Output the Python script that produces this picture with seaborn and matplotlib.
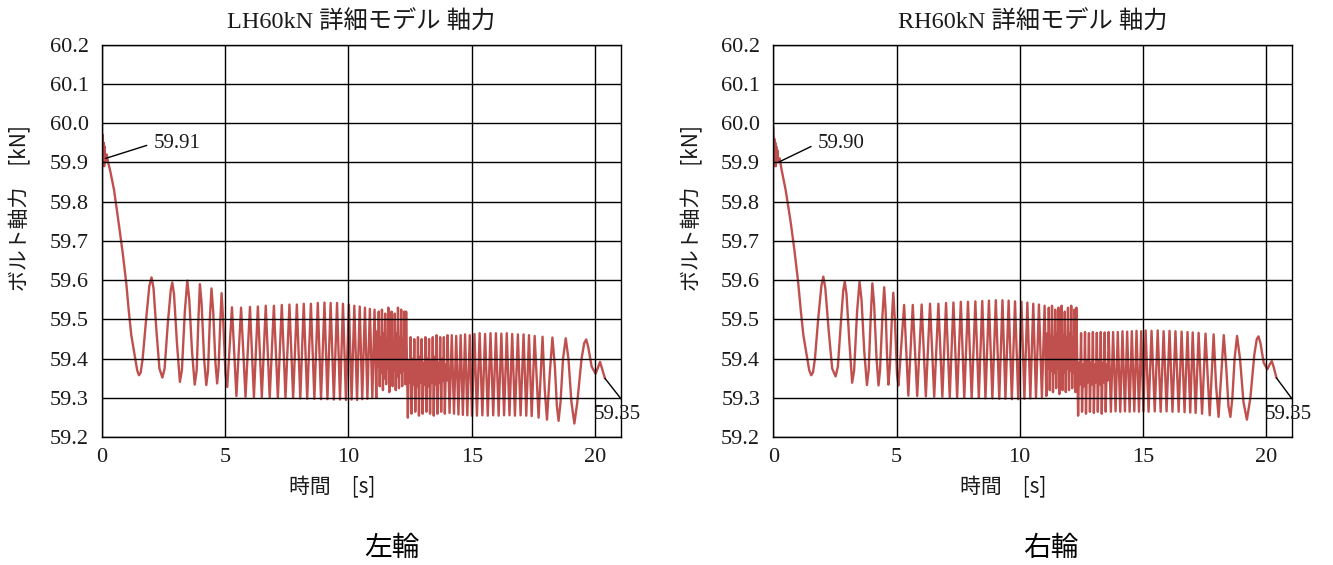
import numpy as np
import pandas as pd
import matplotlib
matplotlib.use("Agg")
import matplotlib.pyplot as plt
import seaborn as sns

# ---------------------------------------------------------------- axes setup
x_ticks = [0, 5, 10, 15, 20]
x_tick_labels = ["0", "5", "10", "15", "20"]
y_ticks = [59.2, 59.3, 59.4, 59.5, 59.6, 59.7, 59.8, 59.9, 60.0, 60.1, 60.2]
y_tick_labels = ["59.2", "59.3", "59.4", "59.5", "59.6", "59.7",
                 "59.8", "59.9", "60.0", "60.1", "60.2"]
titles = ["LH60kN 詳細モデル 軸力", "RH60kN 詳細モデル 軸力"]
captions = ["左輪", "右輪"]
x_label = "時間　[s]"
y_label = "ボルト軸力　[kN]"

# ---------------------------------------------------------------- LH signal
lh_t_start = [0.00, 0.02, 0.04, 0.06, 0.08, 0.10, 0.12, 0.14, 0.16, 0.20, 0.26, 0.34,
              0.50, 0.70, 0.85, 1.00, 1.10, 1.20, 1.28, 1.36, 1.44, 1.51, 1.58, 1.66]
lh_v_start = [59.99, 59.89, 59.97, 59.90, 59.95, 59.89, 59.94, 59.90, 59.91, 59.92, 59.90, 59.88,
              59.83, 59.74, 59.67, 59.59, 59.52, 59.46, 59.43, 59.40, 59.37, 59.358, 59.365, 59.40]

lh_t_slow = [1.80, 1.93, 2.02, 2.10, 2.22, 2.34, 2.46, 2.55, 2.68, 2.80, 2.86, 2.93, 3.05,
             3.17, 3.25, 3.37, 3.47, 3.55, 3.66, 3.77, 3.85, 3.92, 3.98, 4.05, 4.15, 4.24,
             4.31, 4.39, 4.45, 4.52, 4.61, 4.68, 4.74, 4.81, 4.86, 4.93, 5.02, 5.09]
lh_v_slow = [59.50, 59.585, 59.607, 59.58, 59.47, 59.375, 59.352, 59.375, 59.49, 59.575, 59.594,
             59.565, 59.44, 59.341, 59.37, 59.52, 59.599, 59.55, 59.42, 59.334, 59.37, 59.50,
             59.590, 59.54, 59.40, 59.333, 59.37, 59.51, 59.579, 59.52, 59.39, 59.337, 59.38,
             59.50, 59.567, 59.49, 59.36, 59.328]

lh_t_mid = [5.28, 5.46, 5.65, 5.83, 6.01, 6.17, 6.33, 6.49, 6.65, 6.81, 6.98, 7.14, 7.30,
            7.45, 7.61, 7.76, 7.91, 8.05, 8.19, 8.33, 8.48, 8.62, 8.76, 8.89, 9.03, 9.15,
            9.28, 9.41, 9.54, 9.66, 9.78, 9.90, 10.02, 10.13, 10.24, 10.35, 10.46, 10.56,
            10.67, 10.77, 10.87, 10.97, 11.06]
lh_v_mid = [59.531, 59.305, 59.530, 59.303, 59.532, 59.302, 59.533, 59.302, 59.535, 59.301,
            59.535, 59.300, 59.537, 59.300, 59.538, 59.300, 59.538, 59.299, 59.540, 59.298,
            59.540, 59.298, 59.542, 59.297, 59.543, 59.297, 59.542, 59.296, 59.542, 59.296,
            59.540, 59.295, 59.538, 59.296, 59.535, 59.295, 59.533, 59.297, 59.530, 59.298,
            59.527, 59.300, 59.525]

# fast section before the drop: full swings mixed with shallow inner swings
lh_t_dense = [11.13, 11.17, 11.20, 11.23, 11.27, 11.30, 11.33, 11.36, 11.40, 11.43, 11.46,
              11.49, 11.53, 11.56, 11.59, 11.62, 11.66, 11.69, 11.72, 11.75, 11.79, 11.82,
              11.85, 11.88, 11.92, 11.95, 11.98, 12.01, 12.05, 12.08, 12.11, 12.14, 12.18,
              12.21, 12.24, 12.27, 12.31, 12.34]
lh_v_dense = [59.300, 59.470, 59.380, 59.520, 59.330, 59.455, 59.365, 59.525, 59.320, 59.465,
              59.350, 59.515, 59.335, 59.450, 59.375, 59.530, 59.315, 59.460, 59.360, 59.520,
              59.330, 59.445, 59.370, 59.515, 59.320, 59.465, 59.355, 59.530, 59.325, 59.455,
              59.365, 59.525, 59.330, 59.450, 59.370, 59.520, 59.335, 59.520]

lh_t_low = [12.41, 12.45, 12.49, 12.52, 12.56, 12.60, 12.64, 12.67, 12.71, 12.75, 12.79, 12.82,
            12.86, 12.90, 12.94, 12.97, 13.01, 13.05, 13.09, 13.12, 13.16, 13.20, 13.24, 13.27,
            13.31, 13.35, 13.39, 13.42, 13.46, 13.50, 13.54, 13.57, 13.61, 13.65, 13.69, 13.72,
            13.76, 13.80, 13.84, 13.87, 13.91, 13.95, 13.99, 14.02,
            14.10, 14.19, 14.28, 14.37, 14.46, 14.55, 14.64, 14.73, 14.82, 14.92, 15.01, 15.11]
lh_v_low = [59.250, 59.395, 59.340, 59.455, 59.260, 59.400, 59.335, 59.450, 59.265, 59.395,
            59.330, 59.455, 59.255, 59.405, 59.340, 59.450, 59.260, 59.390, 59.335, 59.455,
            59.265, 59.400, 59.330, 59.450, 59.260, 59.395, 59.340, 59.455, 59.255, 59.405,
            59.335, 59.460, 59.260, 59.390, 59.340, 59.455, 59.265, 59.400, 59.345, 59.455,
            59.260, 59.385, 59.345, 59.460,
            59.262, 59.460, 59.260, 59.458, 59.258, 59.460, 59.257, 59.462, 59.256, 59.460,
            59.255, 59.463]

lh_t_tail = [15.21, 15.32, 15.43, 15.54, 15.65, 15.76, 15.87, 15.98, 16.09, 16.20,
             16.31, 16.42, 16.53, 16.64, 16.75, 16.87, 16.98, 17.10, 17.21, 17.32, 17.43, 17.55,
             17.71, 17.87, 17.96, 18.05, 18.16, 18.27, 18.37, 18.45, 18.52, 18.60, 18.70, 18.81,
             18.92, 19.04, 19.16, 19.28, 19.45, 19.56, 19.64, 19.72, 19.86, 20.02, 20.12, 20.20,
             20.28, 20.40]
lh_v_tail = [59.255, 59.465, 59.256, 59.463, 59.255, 59.465,
             59.256, 59.465, 59.255, 59.464, 59.256, 59.465, 59.256, 59.463, 59.255, 59.462,
             59.256, 59.462, 59.255, 59.460, 59.254, 59.458, 59.250, 59.456, 59.320, 59.245,
             59.360, 59.454, 59.380, 59.280, 59.242, 59.290, 59.400, 59.452, 59.400, 59.290,
             59.235, 59.290, 59.400, 59.440, 59.449, 59.430, 59.380, 59.362, 59.378, 59.392,
             59.375, 59.350]

# ---------------------------------------------------------------- RH signal
rh_t_start = [0.00, 0.02, 0.04, 0.06, 0.08, 0.10, 0.12, 0.14, 0.17, 0.20, 0.26, 0.34,
              0.50, 0.70, 0.85, 1.00, 1.12, 1.22, 1.30, 1.38, 1.46, 1.54, 1.61, 1.69]
rh_v_start = [59.99, 59.89, 59.96, 59.90, 59.95, 59.89, 59.94, 59.90, 59.93, 59.90, 59.91, 59.88,
              59.83, 59.75, 59.68, 59.60, 59.52, 59.46, 59.43, 59.40, 59.37, 59.358, 59.365, 59.40]

rh_t_slow = [1.82, 1.95, 2.03, 2.11, 2.25, 2.39, 2.53, 2.62, 2.74, 2.84, 2.90, 2.97, 3.09,
             3.20, 3.28, 3.40, 3.50, 3.58, 3.69, 3.80, 3.87, 3.95, 4.02, 4.09, 4.19, 4.27,
             4.33, 4.43, 4.50, 4.56, 4.62, 4.67, 4.73, 4.81, 4.87, 4.94, 5.02, 5.08]
rh_v_slow = [59.50, 59.585, 59.609, 59.58, 59.47, 59.375, 59.355, 59.38, 59.49, 59.575, 59.596,
             59.565, 59.44, 59.339, 59.37, 59.52, 59.596, 59.55, 59.42, 59.333, 59.37, 59.50,
             59.592, 59.54, 59.40, 59.332, 59.37, 59.51, 59.582, 59.52, 59.40, 59.334, 59.38,
             59.50, 59.568, 59.49, 59.36, 59.332]

rh_t_mid = [5.31, 5.48, 5.66, 5.84, 6.02, 6.19, 6.36, 6.53, 6.70, 6.86, 7.01, 7.16, 7.31,
            7.46, 7.61, 7.75, 7.90, 8.05, 8.20, 8.34, 8.48, 8.61, 8.75, 8.89, 9.03, 9.17,
            9.30, 9.42, 9.55, 9.68, 9.81, 9.94, 10.07, 10.19, 10.31, 10.43, 10.55, 10.66,
            10.78, 10.90, 11.01]
rh_v_mid = [59.537, 59.306, 59.537, 59.305, 59.538, 59.304, 59.540, 59.303, 59.540, 59.303,
            59.542, 59.302, 59.543, 59.302, 59.545, 59.301, 59.545, 59.300, 59.546, 59.300,
            59.547, 59.299, 59.548, 59.299, 59.549, 59.298, 59.549, 59.298, 59.548, 59.297,
            59.546, 59.297, 59.545, 59.298, 59.543, 59.299, 59.540, 59.300, 59.538, 59.302,
            59.535]

rh_t_dense = [11.08, 11.12, 11.15, 11.18, 11.22, 11.25, 11.28, 11.31, 11.35, 11.38, 11.41,
              11.44, 11.48, 11.51, 11.54, 11.57, 11.61, 11.64, 11.67, 11.70, 11.74, 11.77,
              11.80, 11.83, 11.87, 11.90, 11.93, 11.96, 12.00, 12.03, 12.06, 12.09, 12.13,
              12.16, 12.19, 12.22, 12.26, 12.30]
rh_v_dense = [59.305, 59.465, 59.375, 59.530, 59.320, 59.460, 59.370, 59.535, 59.315, 59.455,
              59.365, 59.525, 59.325, 59.465, 59.375, 59.530, 59.310, 59.450, 59.370, 59.535,
              59.320, 59.460, 59.365, 59.520, 59.315, 59.455, 59.375, 59.530, 59.320, 59.465,
              59.370, 59.535, 59.325, 59.455, 59.365, 59.525, 59.315, 59.530]

rh_t_low = [12.37, 12.41, 12.45, 12.49, 12.53, 12.57, 12.61, 12.65, 12.69, 12.73, 12.77, 12.81,
            12.85, 12.89, 12.93, 12.97, 13.01, 13.05, 13.09, 13.13, 13.17, 13.21, 13.25, 13.29,
            13.33, 13.37, 13.41, 13.45, 13.49, 13.53, 13.57, 13.61]
rh_v_low = [59.255, 59.390, 59.335, 59.465, 59.265, 59.385, 59.330, 59.468, 59.260, 59.395,
            59.340, 59.465, 59.265, 59.390, 59.335, 59.468, 59.262, 59.385, 59.340, 59.466,
            59.265, 59.395, 59.335, 59.468, 59.260, 59.390, 59.340, 59.467, 59.265, 59.385,
            59.345, 59.468]

rh_t_tail = [13.70, 13.79, 13.89, 13.98, 14.08, 14.17, 14.27, 14.36, 14.46, 14.55, 14.65, 14.74,
             14.84, 14.93, 15.02, 15.11, 15.23, 15.35, 15.48, 15.60, 15.72, 15.84, 15.96, 16.08,
             16.20, 16.32, 16.45, 16.57, 16.69, 16.81, 16.92, 17.02, 17.14, 17.26, 17.40, 17.54,
             17.71, 17.87, 17.97, 18.07, 18.18, 18.28, 18.38, 18.47, 18.55, 18.63, 18.72, 18.82,
             18.94, 19.08, 19.22, 19.36, 19.52, 19.62, 19.69, 19.77, 19.90, 20.05, 20.14, 20.23,
             20.31, 20.42]
rh_v_tail = [59.265, 59.468, 59.266, 59.468, 59.265, 59.470, 59.266, 59.469, 59.265, 59.470,
             59.266, 59.471, 59.265, 59.470, 59.266, 59.472, 59.265, 59.471, 59.266, 59.472,
             59.265, 59.470, 59.266, 59.471, 59.265, 59.470, 59.265, 59.469, 59.264, 59.468,
             59.263, 59.467, 59.262, 59.466, 59.260, 59.464, 59.256, 59.462, 59.330, 59.252,
             59.360, 59.460, 59.380, 59.280, 59.252, 59.300, 59.400, 59.458, 59.400, 59.290,
             59.245, 59.300, 59.410, 59.450, 59.457, 59.440, 59.390, 59.373, 59.385, 59.394,
             59.378, 59.351]

# time of the labelled point near the start of each record
lh_mark_t = 0.16
rh_mark_t = 0.20

# ---------------------------------------------------------------- style
sns.set_theme(style="white")
NUM_FONT = ["Liberation Serif", "Noto Sans CJK JP", "DejaVu Sans"]
JP_FONT = ["Noto Sans CJK JP", "DejaVu Sans"]
plt.rcParams["font.family"] = NUM_FONT
plt.rcParams["axes.unicode_minus"] = False
LINE_RED = "#C0504D"

W, H = 1333, 565
fig = plt.figure(figsize=(W / 100, H / 100), dpi=100)
fig.patch.set_facecolor("white")


def frame(x0, x1, y0=44.5, y1=437.3):
    return [x0 / W, 1 - y1 / H, (x1 - x0) / W, (y1 - y0) / H]


axes = [fig.add_axes(frame(101.7, 621.0)), fig.add_axes(frame(773.3, 1292.0))]

panels = [
    dict(
        t=np.concatenate([lh_t_start, lh_t_slow, lh_t_mid, lh_t_dense, lh_t_low, lh_t_tail]),
        v=np.concatenate([lh_v_start, lh_v_slow, lh_v_mid, lh_v_dense, lh_v_low, lh_v_tail]),
        mark_t=lh_mark_t, text_x=2.12,
    ),
    dict(
        t=np.concatenate([rh_t_start, rh_t_slow, rh_t_mid, rh_t_dense, rh_t_low, rh_t_tail]),
        v=np.concatenate([rh_v_start, rh_v_slow, rh_v_mid, rh_v_dense, rh_v_low, rh_v_tail]),
        mark_t=rh_mark_t, text_x=1.82,
    ),
]

caption_x = [392, 1051]

for i, (ax, p) in enumerate(zip(axes, panels)):
    df = pd.DataFrame({"time": p["t"], "force": p["v"]})
    sns.lineplot(data=df, x="time", y="force", ax=ax, color=LINE_RED,
                 linewidth=1.7, estimator=None, sort=False, zorder=2)
    for ln in ax.get_lines():
        ln.set_solid_joinstyle("round")

    ax.set_xlim(0, 21.05)
    ax.set_ylim(59.2, 60.2)
    ax.set_xticks(x_ticks)
    ax.set_xticklabels(x_tick_labels)
    ax.set_yticks(y_ticks)
    ax.set_yticklabels(y_tick_labels)
    ax.tick_params(axis="both", length=0, labelsize=16, colors="#1a1a1a")
    ax.tick_params(axis="y", pad=9.5)
    ax.tick_params(axis="x", pad=8)

    ax.set_axisbelow(False)
    ax.grid(True, color="black", linewidth=1.0)
    for s in ax.spines.values():
        s.set_visible(True)
        s.set_color("black")
        s.set_linewidth(1.0)

    ax.set_title(titles[i], fontsize=17.5, y=1.0573, va="center", pad=0,
                 color="#1a1a1a")

    ax.set_xlabel(x_label, fontsize=15, family=JP_FONT, color="#1a1a1a")
    ax.xaxis.set_label_coords(0.4435, -0.1265)
    ax.xaxis.label.set_va("center")
    ax.set_ylabel(y_label, fontsize=15, family=JP_FONT, color="#1a1a1a")
    ax.yaxis.set_label_coords(-0.157, 0.584)
    ax.yaxis.label.set_va("center")
    ax.yaxis.label.set_ha("center")

    # labelled point near the start
    k = int(np.argmin(np.abs(p["t"] - p["mark_t"])))
    mt, mv = p["t"][k], p["v"][k]
    ax.annotate(f"{mv:.2f}", xy=(mt, mv), xytext=(p["text_x"], 59.949),
                ha="left", va="center", fontsize=15, color="#1a1a1a",
                arrowprops=dict(arrowstyle="-", color="black", lw=1.0,
                                shrinkA=3, shrinkB=0, relpos=(0, 0.5)))

    # labelled final value
    et, ev = p["t"][-1], p["v"][-1]
    ax.annotate("", xy=(et, ev), xytext=(21.05, 59.298), annotation_clip=False,
                arrowprops=dict(arrowstyle="-", color="black", lw=1.0,
                                shrinkA=0, shrinkB=0))
    ax.text(19.96, 59.257, f"{ev:.2f}", ha="left", va="center", fontsize=15,
            color="#1a1a1a", clip_on=False)

    fig.text(caption_x[i] / W, 1 - 548 / H, captions[i], ha="center", va="center",
             fontsize=20, family=JP_FONT, color="black")

fig.savefig("out.png", dpi=100, facecolor="white")
